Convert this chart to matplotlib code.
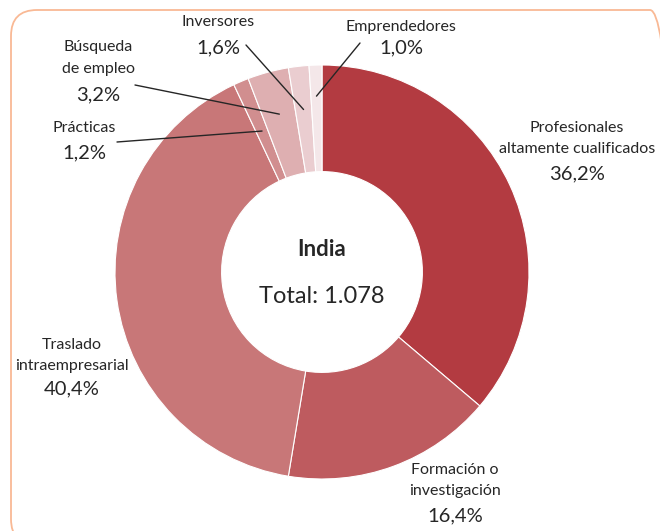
import numpy as np
import matplotlib
matplotlib.use("Agg")
import matplotlib.pyplot as plt
from matplotlib.patches import FancyBboxPatch

plt.rcParams["font.family"] = ["Lato", "DejaVu Sans"]

# ── Data ──────────────────────────────────────────────────────────────────────
categories = ["Profesionales\naltamente cualificados", "Formación o\ninvestigación",
              "Traslado\nintraempresarial", "Prácticas", "Búsqueda\nde empleo",
              "Inversores", "Emprendedores"]
shares     = [36.2, 16.4, 40.4, 1.2, 3.2, 1.6, 1.0]
pct_labels = ["36,2%", "16,4%", "40,4%", "1,2%", "3,2%", "1,6%", "1,0%"]
colors     = ["#B33B41", "#BE5B5F", "#C87778", "#D18E8F", "#DEAFB1", "#EACDD0", "#F4E7E9"]
country    = "India"
total_txt  = "Total: 1.078"

W, H = 660, 531
CX, CY, R = 322, 272, 207     # donut centre / radius in pixels

fig = plt.figure(figsize=(W / 100, H / 100), dpi=100)

# rounded frame (runs off the right and bottom edges)
x0, y0, x1, y1 = 11, 10, 676, 545
frame = FancyBboxPatch((x0, H - y1), x1 - x0, y1 - y0,
                       boxstyle="round,pad=0,rounding_size=26",
                       transform=None, fill=False,
                       edgecolor="#F9B995", linewidth=1.3, clip_on=False)
fig.patches.append(frame)

ax = fig.add_axes([(CX - R) / W, (H - CY - R) / H, 2 * R / W, 2 * R / H])
ax.pie(shares, colors=colors, startangle=90, counterclock=False, radius=1,
       wedgeprops=dict(width=0.515, edgecolor="white", linewidth=0.8))
ax.set_xlim(-1, 1)
ax.set_ylim(-1, 1)
ax.set_aspect("equal")
ax.axis("off")

TXT = "#262626"
ax.text(0, 0.11, country, ha="center", va="center", fontsize=16, fontweight="bold", color=TXT)
ax.text(0, -0.12, total_txt, ha="center", va="center", fontsize=17, color=TXT)


def px(x, y):
    return (x - CX) / R, (CY - y) / R


# label placement (pixel centres of name lines and percent)
label_pos = {
    0: ((577, 128), 21, (577, 174)),
    1: ((455, 470), 21, (455, 516)),
    2: ((72, 345), 21, (72, 389)),
    3: ((84, 128), 21, (84, 153)),
    4: ((98, 47), 22, (98, 95)),
    5: ((218, 22), 21, (218, 48)),
    6: ((401, 27), 21, (401, 48)),
}
for i, ((lx, ly), step, (ppx, ppy)) in label_pos.items():
    for k, line in enumerate(categories[i].split("\n")):
        ax.text(*px(lx, ly + k * step), line, ha="center", va="center",
                fontsize=11.5, color=TXT)
    ax.text(*px(ppx, ppy), pct_labels[i], ha="center", va="center",
            fontsize=14.5, color=TXT)

# leader lines for the small slices
cum = np.cumsum([0] + shares[:-1])
leaders = {3: ((117, 142), 0.74), 4: ((135, 85), 0.79), 5: ((246, 45), 0.79), 6: ((360, 43), 0.85)}
for i, ((sx, sy), rr) in leaders.items():
    mid = (cum[i] + shares[i] / 2) / 100 * 2 * np.pi
    ex, ey = rr * np.sin(mid), rr * np.cos(mid)
    ax.annotate("", xy=(ex, ey), xytext=px(sx, sy),
                arrowprops=dict(arrowstyle="-", color=TXT, lw=1.0,
                                shrinkA=0, shrinkB=0),
                annotation_clip=False)

fig.savefig("out.png", dpi=100)
